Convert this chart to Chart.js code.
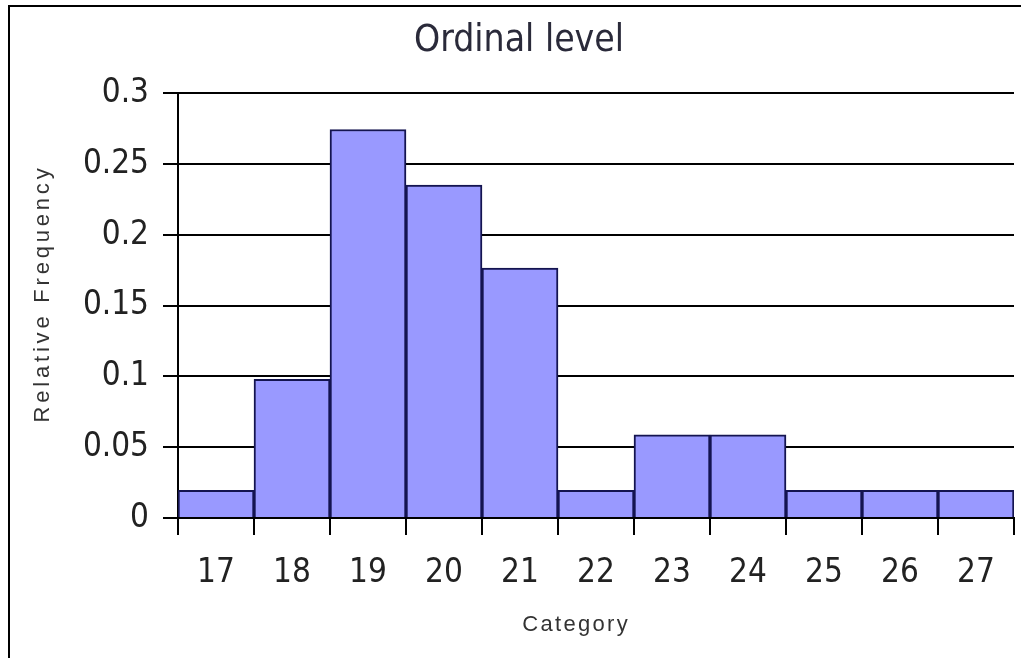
<!DOCTYPE html>
<html>
<head>
<meta charset="utf-8">
<script src="https://cdn.jsdelivr.net/npm/chart.js@4.4.0/dist/chart.umd.min.js"></script>
<style>
  html, body { margin: 0; padding: 0; background: #ffffff; }
  #wrap { position: relative; width: 1021px; height: 658px; overflow: hidden; background: #fff; }
  #frame { position: absolute; left: 8px; top: 5px; width: 1100px; height: 800px;
           border-left: 2px solid #000; border-top: 2px solid #000; box-sizing: border-box; }
  #c { position: absolute; left: 0; top: 0; }
</style>
</head>
<body>
<div id="wrap">
  <div id="frame"></div>
  <canvas id="c" width="1021" height="658"></canvas>
</div>
<script>
const categories = ['17', '18', '19', '20', '21', '22', '23', '24', '25', '26', '27'];
const relativeFrequency = [0.0196, 0.098, 0.2745, 0.2353, 0.1765, 0.0196, 0.0588, 0.0588, 0.0196, 0.0196, 0.0196];
const yTickValues = [0, 0.05, 0.1, 0.15, 0.2, 0.25, 0.3];
const yTickLabels = ['0', '0.05', '0.1', '0.15', '0.2', '0.25', '0.3'];
const chartTitle = 'Ordinal level';
const xAxisTitle = 'Category';
const yAxisTitle = 'Relative Frequency';

const FONT = '"DejaVu Sans Condensed", "DejaVu Sans", sans-serif';
const AXFONT = '"Liberation Sans", Arial, sans-serif';

// Spaced axis titles (the original uses letter-spaced small captions)
const axisTitles = {
  id: 'axisTitles',
  afterDraw(chart) {
    const { ctx, chartArea } = chart;
    ctx.save();
    ctx.fillStyle = '#333';
    ctx.font = '22px ' + AXFONT;
    ctx.textAlign = 'center';
    ctx.textBaseline = 'middle';
    // x-axis title
    ctx.letterSpacing = '2.3px';
    ctx.fillText(xAxisTitle, chartArea.left + 397 + 1.15, chartArea.bottom + 107);
    // y-axis title
    ctx.letterSpacing = '3.8px';
    ctx.translate(chartArea.left - 135, chartArea.top + 202);
    ctx.rotate(-Math.PI / 2);
    ctx.fillText(yAxisTitle, 1.9, 0);
    ctx.restore();
  }
};

new Chart(document.getElementById('c'), {
  type: 'bar',
  data: {
    labels: categories,
    datasets: [{
      data: relativeFrequency,
      backgroundColor: '#9999ff',
      borderColor: '#141450',
      borderWidth: 2,
      barPercentage: 1,
      categoryPercentage: 1
    }]
  },
  plugins: [axisTitles],
  options: {
    responsive: false,
    animation: false,
    devicePixelRatio: 1,
    layout: { padding: { left: 24, right: 7, top: 0, bottom: 0 } },
    plugins: {
      legend: { display: false },
      tooltip: { enabled: false },
      title: {
        display: true,
        text: chartTitle,
        color: '#2a2a3a',
        font: { family: FONT, size: 37, weight: 'normal' },
        padding: { top: 19, bottom: 30 }
      }
    },
    scales: {
      x: {
        offset: true,
        grid: {
          offset: true,
          drawOnChartArea: false,
          drawTicks: true,
          tickLength: 17,
          color: '#000',
          lineWidth: 2
        },
        border: { display: true, color: '#000', width: 2 },
        ticks: {
          color: '#222',
          padding: 19,
          maxRotation: 0,
          autoSkip: false,
          font: { family: FONT, size: 33 }
        },
        afterFit: (s) => { s.height = 140; }
      },
      y: {
        min: 0,
        max: 0.3,
        afterBuildTicks: (s) => { s.ticks = yTickValues.map(v => ({ value: v })); },
        grid: {
          drawTicks: true,
          tickLength: 15,
          color: '#000',
          lineWidth: 2
        },
        border: { display: true, color: '#000', width: 2 },
        ticks: {
          color: '#222',
          padding: 14,
          font: { family: FONT, size: 33 },
          callback: (v) => { const i = yTickValues.indexOf(v); return i >= 0 ? yTickLabels[i] : ''; }
        },
        afterFit: (s) => { s.width = 154; }
      }
    }
  }
});
</script>
</body>
</html>
